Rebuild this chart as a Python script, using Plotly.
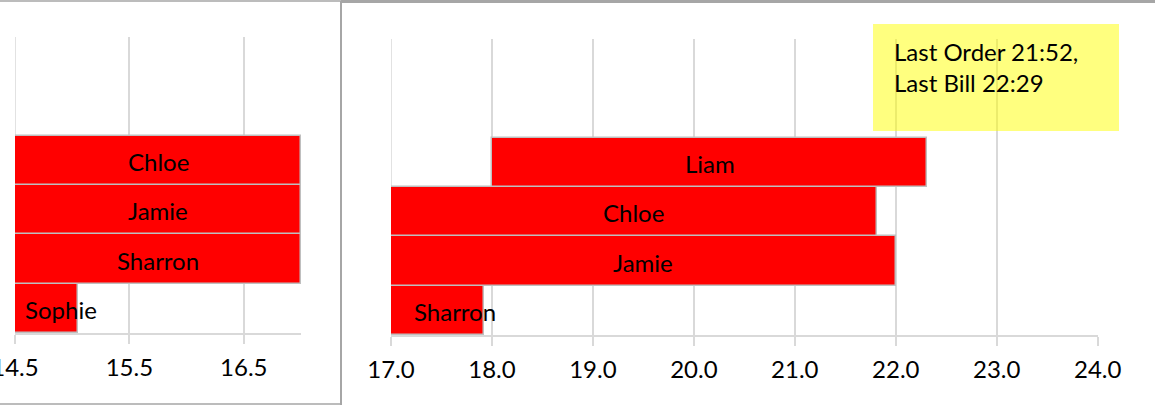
import plotly.graph_objects as go

# ---- data ----
left_names = ["Sophie", "Sharron", "Jamie", "Chloe"]
left_start = [14.5, 14.5, 14.5, 14.5]
left_end = [15.05, 17.0, 17.0, 17.0]
left_ticks = [14.5, 15.5, 16.5]
left_ticktext = ["14.5", "15.5", "16.5"]

right_names = ["Sharron", "Jamie", "Chloe", "Liam"]
right_start = [17.0, 17.0, 17.0, 18.0]
right_end = [17.92, 22.0, 21.81, 22.31]
right_ticks = [17, 18, 19, 20, 21, 22, 23, 24]
right_ticktext = ["17.0", "18.0", "19.0", "20.0", "21.0", "22.0", "23.0", "24.0"]

note_text = "Last Order 21:52,<br>Last Bill 22:29"

# ---- layout helpers (body margin removed by post_script) ----
W, H = 1155, 405
def px(x):
    return x / W
def py(y):
    return 1 - y / H

FONT = "Lato"
FS = 24
RED = "#FF0000"
EDGE = "#BFBFBF"
GRID = "#D9D9D9"
BORDER = "#A6A6A6"

fig = go.Figure()

fig.add_trace(go.Bar(
    y=list(range(len(left_names))),
    x=[e - s for s, e in zip(left_start, left_end)],
    base=left_start,
    orientation="h",
    marker=dict(color=RED, line=dict(color=EDGE, width=1.5)),
    width=1.0,
    xaxis="x", yaxis="y",
    hoverinfo="skip",
))
fig.add_trace(go.Bar(
    y=list(range(len(right_names))),
    x=[e - s for s, e in zip(right_start, right_end)],
    base=right_start,
    orientation="h",
    marker=dict(color=RED, line=dict(color=EDGE, width=1.5)),
    width=1.0,
    xaxis="x2", yaxis="y2",
    hoverinfo="skip",
))

annotations = []
def add_labels(names, starts, ends, xref, yref, small_shift):
    for i, (n, s, e) in enumerate(zip(names, starts, ends)):
        mid = (s + e) / 2
        shift = small_shift if (e - s) < 1.0 else 0
        annotations.append(dict(
            x=mid, y=i, xref=xref, yref=yref, text=n, showarrow=False,
            xanchor="center", yanchor="middle", xshift=shift, yshift=-1,
            font=dict(family=FONT, size=FS, color="black"),
        ))

add_labels(left_names, left_start, left_end, "x", "y", 15)
add_labels(right_names, right_start, right_end, "x2", "y2", 18)

annotations.append(dict(
    x=px(892), y=py(35), xref="paper", yref="paper", text=note_text,
    showarrow=False, xanchor="left", yanchor="top", align="left",
    font=dict(family=FONT, size=FS, color="black"),
))

shapes = [
    # gridlines at the start of each range (plotly drops edge gridlines)
    dict(type="line", xref="x", yref="y domain", x0=left_ticks[0], x1=left_ticks[0],
         y0=0, y1=1, line=dict(color=GRID, width=1.5), layer="below"),
    dict(type="line", xref="x2", yref="y2 domain", x0=right_ticks[0], x1=right_ticks[0],
         y0=0, y1=1, line=dict(color=GRID, width=1.5), layer="below"),
    # yellow note box
    dict(type="rect", xref="paper", yref="paper",
         x0=px(873), x1=px(1119), y0=py(131), y1=py(24),
         fillcolor="rgba(255,255,0,0.5)", line=dict(width=0), layer="above"),
    # panel borders
    dict(type="line", xref="paper", yref="paper", x0=0, x1=px(341), y0=py(1), y1=py(1),
         line=dict(color=BORDER, width=1.5)),
    dict(type="line", xref="paper", yref="paper", x0=0, x1=px(341), y0=py(404), y1=py(404),
         line=dict(color=BORDER, width=1.5)),
    dict(type="line", xref="paper", yref="paper", x0=px(341), x1=1, y0=py(1.5), y1=py(1.5),
         line=dict(color=BORDER, width=3)),
    dict(type="line", xref="paper", yref="paper", x0=px(341), x1=px(341), y0=0, y1=py(1),
         line=dict(color=BORDER, width=2)),
]

axis_common = dict(
    showgrid=True, gridcolor=GRID, gridwidth=1.5,
    showline=True, linecolor=GRID, linewidth=1.5,
    ticks="outside", ticklen=9, tickcolor=GRID, tickwidth=1.5,
    tickfont=dict(family=FONT, size=FS, color="black"),
    ticklabelstandoff=3,
    zeroline=False, fixedrange=True, automargin=False,
    ticklabeloverflow="allow",
)
yaxis_common = dict(
    range=[-0.5, 5.5], showgrid=False, showticklabels=False, zeroline=False,
    showline=False, ticks="", fixedrange=True, automargin=False,
)

fig.update_layout(
    width=W, height=H, autosize=False,
    margin=dict(l=0, r=0, t=0, b=0, pad=0),
    paper_bgcolor="white", plot_bgcolor="rgba(0,0,0,0)",
    showlegend=False,
    barmode="overlay",
    bargap=0,
    xaxis=dict(domain=[px(15), px(301)], range=[14.5, 17.0],
               tickvals=left_ticks, ticktext=left_ticktext, anchor="y",
               **axis_common),
    yaxis=dict(domain=[py(333), py(37)], anchor="x", **yaxis_common),
    xaxis2=dict(domain=[px(391), px(1097.7)], range=[17, 24],
                tickvals=right_ticks, ticktext=right_ticktext, anchor="y2",
                **axis_common),
    yaxis2=dict(domain=[py(335), py(39)], anchor="x2", **yaxis_common),
    annotations=annotations,
    shapes=shapes,
)

fig.write_html(
    "out.html",
    config={"displayModeBar": False},
    post_script="document.body.style.margin='0';document.body.style.overflow='hidden';",
)
